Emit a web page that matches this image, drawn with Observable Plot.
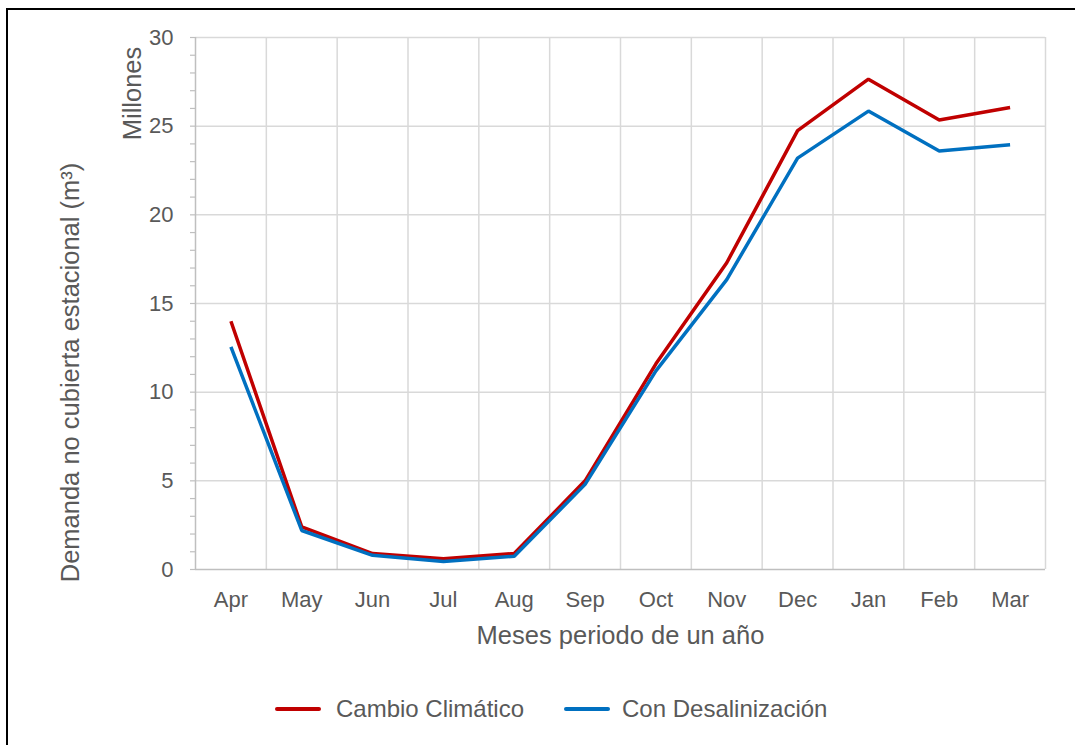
<!DOCTYPE html>
<html>
<head>
<meta charset="utf-8">
<script src="https://cdn.jsdelivr.net/npm/d3@7"></script>
<script src="https://cdn.jsdelivr.net/npm/@observablehq/plot@0.6"></script>
<style>
  body { margin: 0; background: #fff; font-family: "Liberation Sans", Arial, sans-serif; }
  #frame { position: absolute; left: 6px; top: 8px; width: 1200px; height: 900px; border: 2px solid #000; box-sizing: border-box; }
  #chart { position: absolute; left: 0; top: 0; }
  .leg { position: absolute; top: 695px; font-size: 24px; line-height: 28px; color: #595959; display: flex; align-items: center; }
  .leg span.sw { display: inline-block; width: 46px; height: 4px; border-radius: 2px; }
</style>
</head>
<body>
<div id="frame"></div>
<div id="chart"></div>
<div class="leg" style="left:275px"><span class="sw" style="background:#C00000;margin-right:15px"></span>Cambio Climático</div>
<div class="leg" style="left:564px"><span class="sw" style="background:#0070C0;margin-right:12px"></span>Con Desalinización</div>
<script>
const months = ["Apr","May","Jun","Jul","Aug","Sep","Oct","Nov","Dec","Jan","Feb","Mar"];
const cambioClimatico = [14.0, 2.4, 0.9, 0.6, 0.9, 5.0, 11.6, 17.3, 24.75, 27.65, 25.35, 26.05];
const conDesalinizacion = [12.55, 2.2, 0.8, 0.45, 0.75, 4.8, 11.2, 16.35, 23.2, 25.85, 23.6, 23.95];
const seriesNames = ["Cambio Climático", "Con Desalinización"];
const colors = ["#C00000", "#0070C0"];
const yMajor = [0, 5, 10, 15, 20, 25, 30];
const yMinor = d3.range(0, 31);

const rows = [];
months.forEach((m, i) => {
  rows.push({i, month: m, series: seriesNames[0], value: cambioClimatico[i]});
  rows.push({i, month: m, series: seriesNames[1], value: conDesalinizacion[i]});
});
const bounds = d3.range(months.length + 1).map(k => k - 0.5);

const grey = "#595959";
const plot = Plot.plot({
  width: 1075,
  height: 670,
  marginLeft: 195,
  marginRight: 30,
  marginTop: 37,
  marginBottom: 101,
  style: { fontFamily: "Liberation Sans, Arial, sans-serif", fontSize: "22px", color: grey, background: "transparent" },
  x: { type: "linear", domain: [-0.5, months.length - 0.5] },
  y: { domain: [0, 30] },
  color: { domain: seriesNames, range: colors },
  marks: [
    Plot.ruleY(yMajor.slice(1), { stroke: "#d9d9d9", strokeWidth: 1.5 }),
    Plot.ruleX(bounds.slice(1), { stroke: "#d9d9d9", strokeWidth: 1.5 }),
    Plot.ruleX([bounds[0]], { stroke: "#bfbfbf", strokeWidth: 1.5 }),
    Plot.axisY({ ticks: yMinor, tickSize: 5, tickFormat: () => "", stroke: "#bfbfbf", strokeWidth: 1.2, label: null }),
    Plot.axisY({ ticks: yMajor, tickSize: 0, tickPadding: 22, fontSize: 22, label: null, fill: grey }),
    Plot.ruleY([0], { stroke: "#bfbfbf", strokeWidth: 1.5 }),
    Plot.axisX({ ticks: d3.range(months.length), tickSize: 0, tickPadding: 22, tickFormat: i => months[i], fontSize: 22, label: null, fill: grey }),
    Plot.line(rows, { x: "i", y: "value", z: "series", stroke: "series", strokeWidth: 3.5, strokeLinejoin: "miter", strokeLinecap: "butt" }),
    Plot.text(["Meses periodo de un año"], { frameAnchor: "bottom", dy: 74, fontSize: 25.5, fill: grey }),
    Plot.text(["Demanda no cubierta estacional (m³)"], { frameAnchor: "left", textAnchor: "middle", dx: -125, dy: 69, rotate: -90, fontSize: 25.5, fill: grey }),
    Plot.text(["Millones"], { frameAnchor: "top-left", textAnchor: "middle", dx: -73, dy: 56, rotate: -90, fontSize: 25.5, fill: grey })
  ]
});
document.getElementById("chart").appendChild(plot);
</script>
</body>
</html>
